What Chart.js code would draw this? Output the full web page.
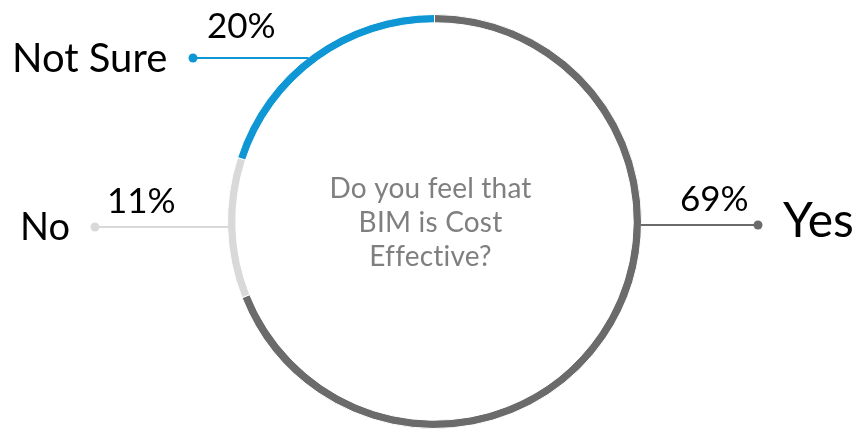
<!DOCTYPE html>
<html>
<head>
<meta charset="utf-8">
<script src="https://cdn.jsdelivr.net/npm/chart.js@4/dist/chart.umd.min.js"></script>
<style>
  html, body { margin: 0; padding: 0; background: #ffffff; }
  #wrap { width: 860px; height: 429px; position: relative; }
</style>
</head>
<body>
<div id="wrap"><canvas id="c" width="860" height="429"></canvas></div>
<script>
// ---- data ----
const categories = ['Yes', 'No', 'Not Sure'];
const values = [69, 11, 20];
const percentLabels = ['69%', '11%', '20%'];
const colors = ['#6b6b6b', '#d9d9d9', '#0f97d5'];
const centerLines = ['Do you feel that', 'BIM is Cost', 'Effective?'];

// ---- label layout (positions of annotation text, not data) ----
const labelLayout = [
  { side: 'right', lineY: 225, dotX: 758, nameX: 783, nameY: 237, nameSize: 48, pctX: 680, pctY: 211 },
  { side: 'left',  lineY: 227, dotX: 95,  nameX: 20,  nameY: 240, nameSize: 38, pctX: 107, pctY: 213 },
  { side: 'left',  lineY: 58,  dotX: 193, nameX: 12,  nameY: 72,  nameSize: 40, pctX: 207, pctY: 38 }
];

const FONT = 'Lato, "Open Sans", sans-serif';

const leaderPlugin = {
  id: 'leaders',
  afterDraw(chart) {
    const ctx = chart.ctx;
    const arc = chart.getDatasetMeta(0).data[0];
    const cx = arc.x, cy = arc.y, R = arc.outerRadius;
    ctx.save();
    categories.forEach((name, i) => {
      const L = labelLayout[i];
      const dy = L.lineY - cy;
      const dx = Math.sqrt(Math.max(R * R - dy * dy, 0));
      const edgeX = L.side === 'right' ? cx + dx - 1 : cx - dx + 1;
      ctx.strokeStyle = colors[i];
      ctx.lineWidth = 2;
      ctx.beginPath();
      ctx.moveTo(edgeX, L.lineY);
      ctx.lineTo(L.dotX, L.lineY);
      ctx.stroke();
      ctx.fillStyle = colors[i];
      ctx.beginPath();
      ctx.arc(L.dotX, L.lineY, 4.5, 0, Math.PI * 2);
      ctx.fill();
      // category name
      ctx.fillStyle = '#000000';
      ctx.textBaseline = 'alphabetic';
      ctx.textAlign = 'left';
      ctx.font = L.nameSize + 'px ' + FONT;
      ctx.fillText(name, L.nameX, L.nameY);
      // percent
      ctx.font = '35px ' + FONT;
      ctx.fillText(percentLabels[i], L.pctX, L.pctY);
    });
    // center text
    ctx.fillStyle = '#7f7f7f';
    ctx.font = '28px ' + FONT;
    if ('letterSpacing' in ctx) ctx.letterSpacing = '0.2px';
    ctx.textAlign = 'center';
    ctx.textBaseline = 'alphabetic';
    const baseY = 198;
    centerLines.forEach((t, k) => ctx.fillText(t, cx - 4, baseY + k * 34));
    ctx.restore();
  }
};

new Chart(document.getElementById('c'), {
  type: 'doughnut',
  data: {
    labels: categories,
    datasets: [{
      data: values,
      backgroundColor: colors,
      borderColor: '#ffffff',
      borderWidth: 1,
      hoverOffset: 0,
      offset: 0
    }]
  },
  options: {
    responsive: false,
    animation: false,
    cutout: '96%',
    rotation: 0,
    layout: { padding: { top: 14, left: 9, right: 0, bottom: 0 } },
    plugins: {
      legend: { display: false },
      tooltip: { enabled: false }
    },
    events: []
  },
  plugins: [leaderPlugin]
});
</script>
</body>
</html>
